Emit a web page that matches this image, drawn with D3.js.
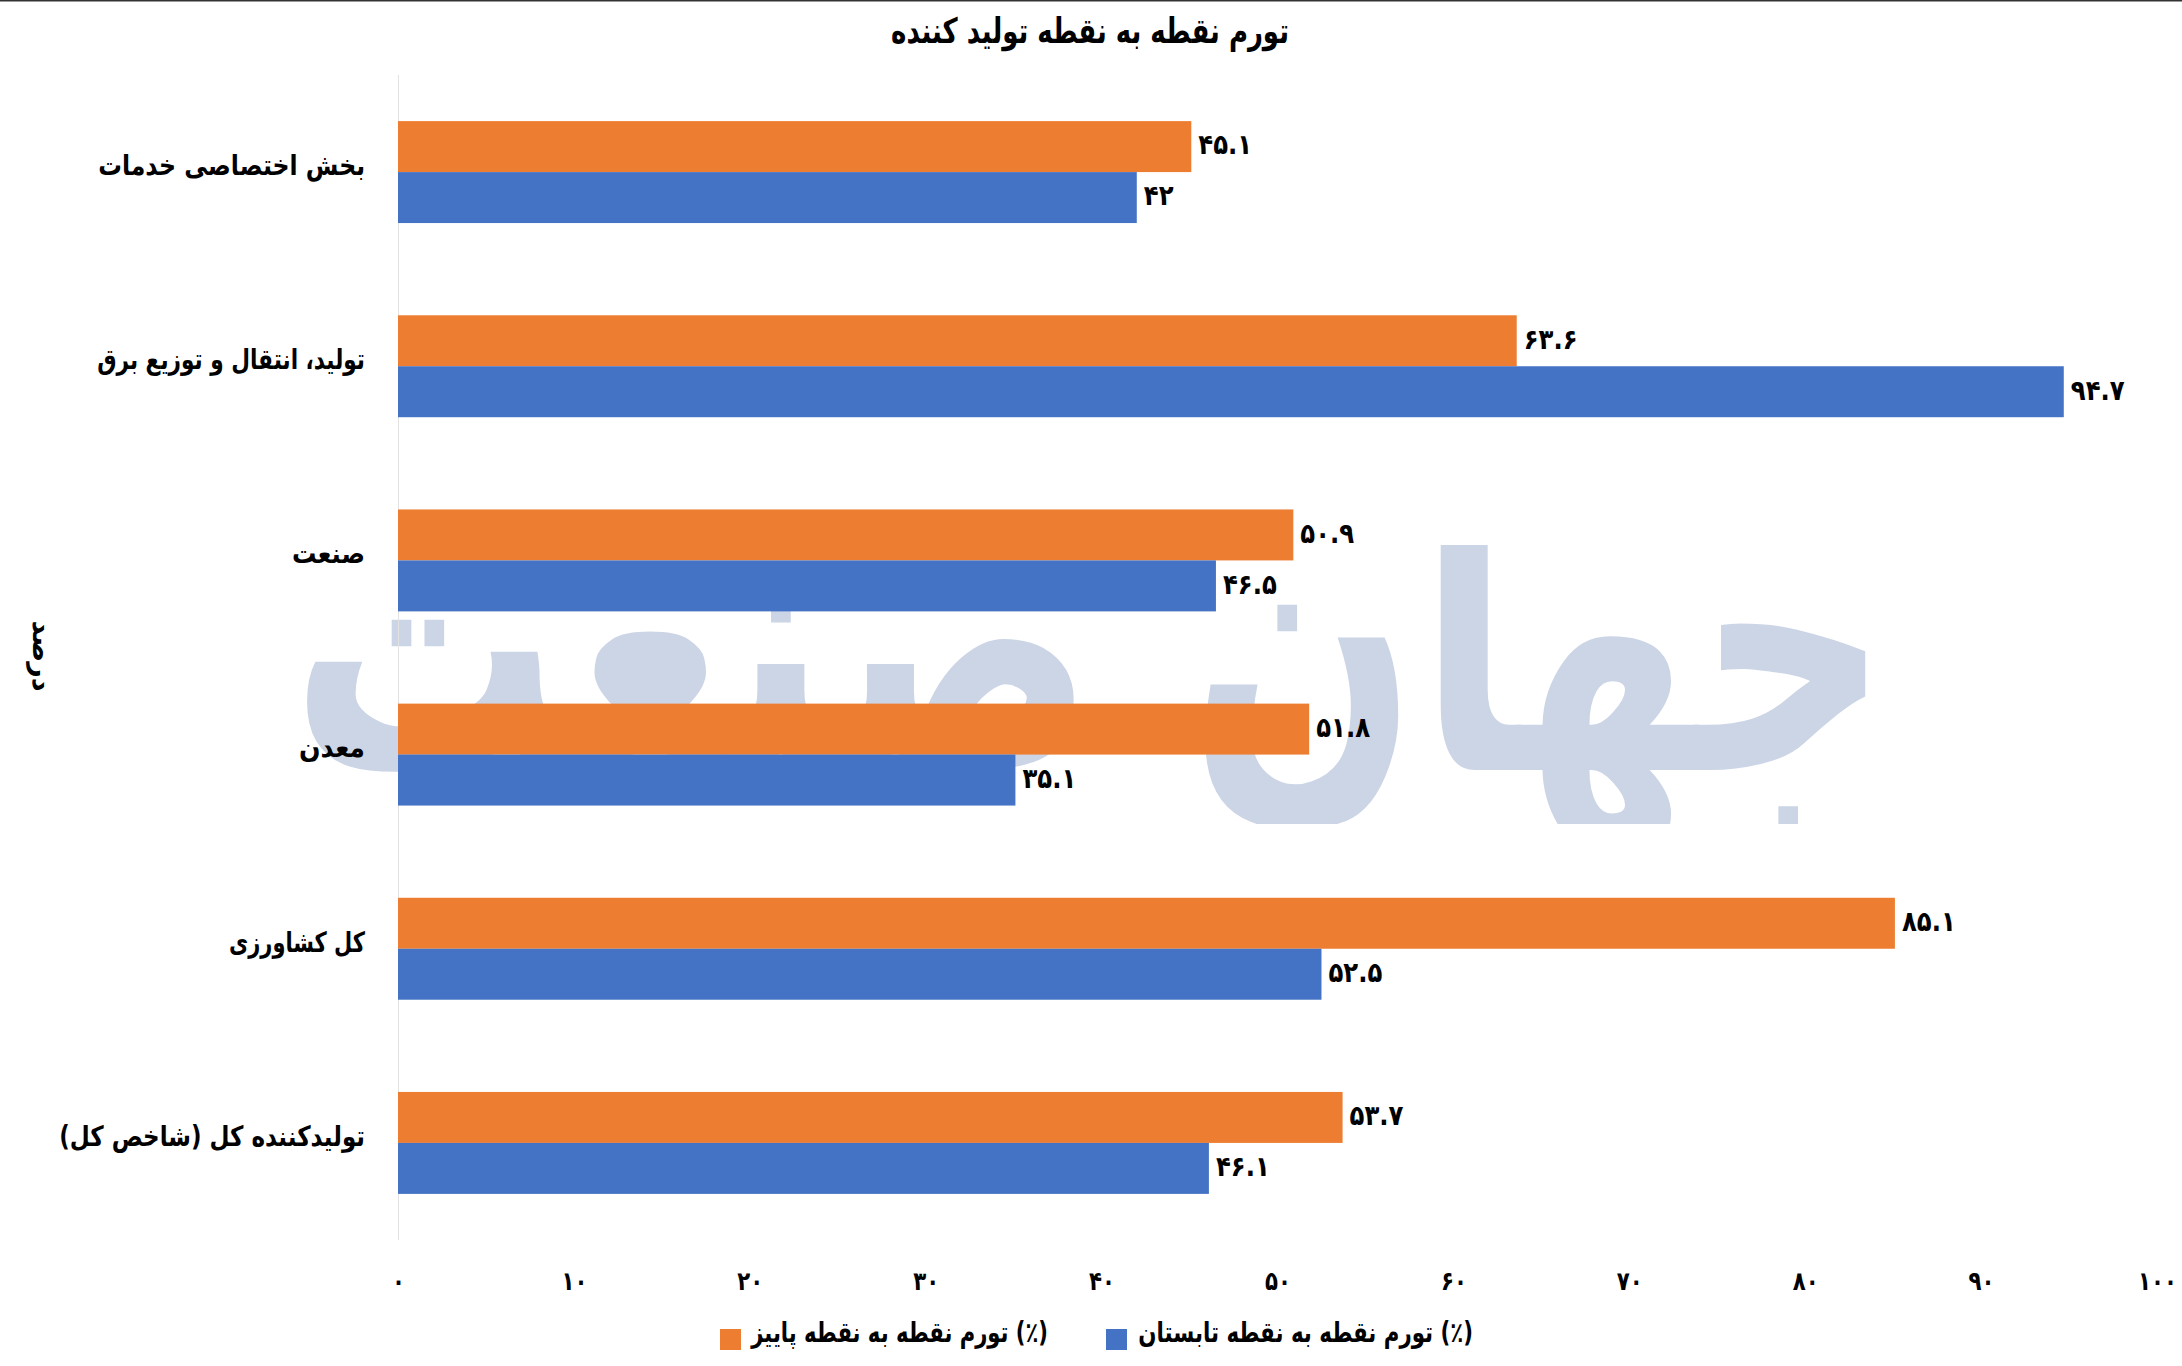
<!DOCTYPE html>
<html><head><meta charset="utf-8">
<script src="https://cdn.jsdelivr.net/npm/d3@7"></script>
<style>
html,body{margin:0;padding:0;background:#fff}
svg{display:block}
text{font-family:"DejaVu Sans","Noto Sans",sans-serif;font-weight:700;fill:#000}
</style></head><body><div id="chart"></div>
<script>
const categories=["بخش اختصاصی خدمات","تولید، انتقال و توزیع برق","صنعت","معدن","کل کشاورزی","تولیدکننده کل (شاخص کل)"];
const autumn=[45.1,63.6,50.9,51.8,85.1,53.7];
const summer=[42,94.7,46.5,35.1,52.5,46.1];
const seriesNames=["تورم نقطه به نقطه پاییز (٪)","تورم نقطه به نقطه تابستان (٪)"];
const seriesColors=["#ed7d31","#4472c4"];
const xTicks=[0,10,20,30,40,50,60,70,80,90,100];
const chartTitle="تورم نقطه به نقطه تولید کننده";
const yTitle="درصد";
const watermark="جهان صنعت";
const fa=v=>String(v).replace(/\d/g,d=>"۰۱۲۳۴۵۶۷۸۹"[d]);

const W=2182,H=1366;
const svg=d3.select("#chart").append("svg").attr("width",W).attr("height",H);
const x=d3.scaleLinear().domain([0,100]).range([398,2157]);
const y=d3.scaleBand().domain(categories).range([75,1240]).paddingInner(0.475).paddingOuter(0.2375);
const y2=d3.scaleBand().domain([0,1]).range([0,y.bandwidth()]);

svg.append("rect").attr("width",W).attr("height",1.5).attr("fill","#333");

// watermark
svg.append("clipPath").attr("id","wm").append("rect").attr("x",290).attr("y",545).attr("width",1600).attr("height",279);
const wm=svg.append("g").attr("clip-path","url(#wm)").append("text")
  .attr("direction","rtl").attr("text-anchor","start").attr("font-size",362).style("fill","#ccd5e6").text(watermark);
const wmLen=wm.node().getComputedTextLength();
wm.attr("transform",`translate(1890,770) scale(${1600/wmLen},1)`);

// axis line
svg.append("line").attr("x1",x(0)+.5).attr("x2",x(0)+.5).attr("y1",75).attr("y2",1240).attr("stroke","#e2e2e2").attr("stroke-width",1);

// bars
[autumn,summer].forEach((vals,s)=>{
  const g=svg.append("g");
  g.selectAll("rect").data(vals).join("rect")
   .attr("x",x(0)).attr("y",(d,i)=>y(categories[i])+y2(s))
   .attr("width",d=>x(d)-x(0)).attr("height",y2.bandwidth()).attr("fill",seriesColors[s]);
  g.selectAll("text").data(vals).join("text")
   .attr("dy","0.35em").attr("font-size",28).attr("text-anchor","start").style("direction","ltr")
   .text(d=>fa(d))
   .attr("transform",(d,i)=>`translate(${x(d)+7},${y(categories[i])+y2(s)+y2.bandwidth()/2-2}) scale(0.87,1)`);
});

// category labels, each condensed to the width it has in the reference
const labelWidths=[267,268,73,66,136,306];
const yAxis=d3.axisLeft(y).tickSize(0).tickPadding(0);
const yg=svg.append("g").attr("transform",`translate(${x(0)},0)`).call(yAxis);
yg.select(".domain").remove();
yg.selectAll("text").attr("font-size",28).attr("dy","0.1em").attr("font-family",null).attr("x",0)
  .attr("transform",function(d,i){return `translate(-33,0) scale(${labelWidths[i]/this.getComputedTextLength()},1)`;});

// x ticks
const xAxis=d3.axisBottom(x).tickValues(xTicks).tickFormat(fa).tickSize(0).tickPadding(0);
const xg=svg.append("g").attr("transform","translate(0,1272)").call(xAxis);
xg.select(".domain").remove();
xg.selectAll("text").attr("font-size",26).attr("font-family",null).attr("transform","scale(0.82,1)");

const title=svg.append("text").attr("dy","0.35em").attr("text-anchor","middle").attr("font-size",35).text(chartTitle);
title.attr("transform",`translate(1090,31) scale(${398/title.node().getComputedTextLength()},1)`);
svg.append("text").attr("transform","translate(42,656) rotate(90)").attr("text-anchor","middle").attr("dy","0.35em").attr("font-size",27).text(yTitle);

// legend
const legend=[{n:seriesNames[0],c:seriesColors[0],sw:720,tx:1048,w:297},{n:seriesNames[1],c:seriesColors[1],sw:1106,tx:1473,w:335}];
const lg=svg.append("g");
lg.selectAll("rect").data(legend).join("rect").attr("x",d=>d.sw).attr("y",1329).attr("width",21).attr("height",21).attr("fill",d=>d.c);
lg.selectAll("text").data(legend).join("text").attr("dy","0.35em").attr("text-anchor","end").attr("font-size",28)
  .text(d=>d.n).attr("transform",function(d){return `translate(${d.tx},1332) scale(${d.w/this.getComputedTextLength()},1)`;});
</script></body></html>
